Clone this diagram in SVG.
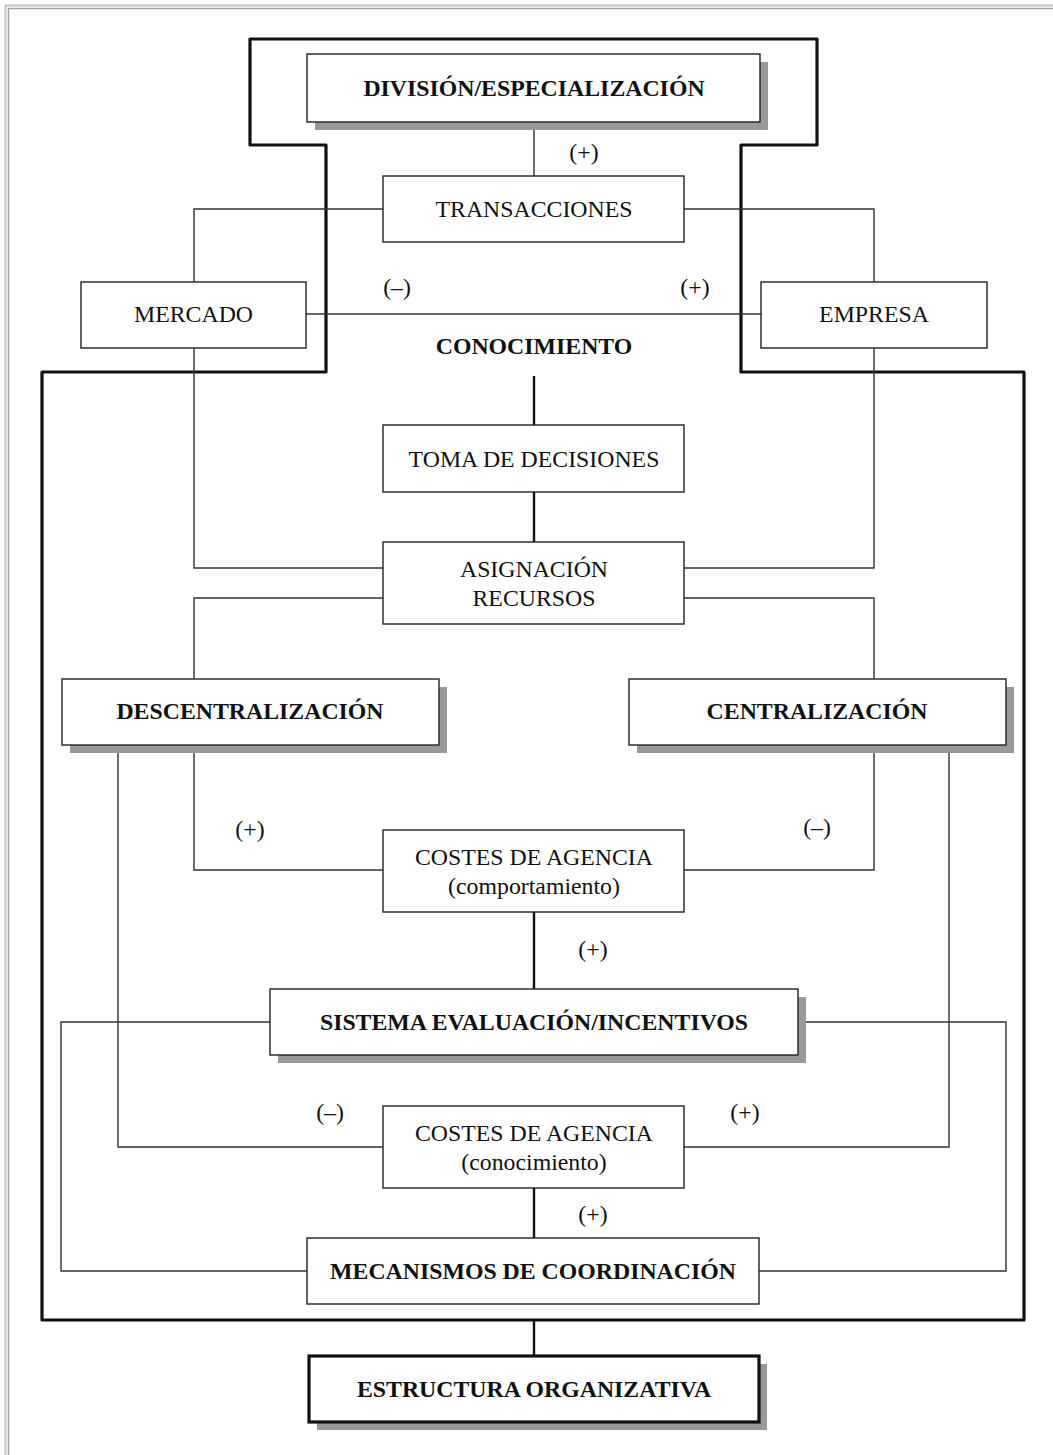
<svg xmlns="http://www.w3.org/2000/svg" width="1053" height="1455" viewBox="0 0 1053 1455">
  <style>
    .box { fill: #ffffff; stroke: #222222; stroke-width: 1.4; }
    .box-thick { fill: #ffffff; stroke: #111111; stroke-width: 3.2; }
    .shadow { fill: #999999; stroke: none; }
    .wire { fill: none; stroke: #333333; stroke-width: 1.4; }
    .wire-bold { fill: none; stroke: #111111; stroke-width: 2.4; }
    .frame { fill: none; stroke: #111111; stroke-width: 3.2; stroke-linejoin: round; }
    text { font-family: "Liberation Serif", "Times New Roman", serif; font-size: 23.8px; fill: #111111; text-anchor: middle; }
    .b { font-weight: bold; }
  </style>

  <!-- page edge -->
  <g id="page-edge" fill="none">
    <polyline points="5.5,1455 5.5,5.5 1053,5.5" stroke="#c4c4c4" stroke-width="2"/>
    <polyline points="8.5,1455 8.5,8.5 1053,8.5" stroke="#a2a2a2" stroke-width="1.5"/>
  </g>

  <!-- outer outline grouping the inner blocks -->
  <g id="outline">
    <path class="frame" d="M250 39 H817 V145 H741 V372 H1024 V1320 H42 V372 H326 V145 H250 Z"/>
  </g>

  <g id="connectors">
    <path class="wire" d="M534 122 V176"/>
    <path class="wire" d="M383 209 H194 V282"/>
    <path class="wire" d="M684 209 H874 V282"/>
    <path class="wire" d="M306 314 H761"/>
    <path class="wire" d="M194 348 V568 H383"/>
    <path class="wire" d="M874 348 V568 H684"/>
    <path class="wire" d="M383 598 H194 V679"/>
    <path class="wire" d="M684 598 H874 V679"/>
    <path class="wire" d="M194 745 V870 H383"/>
    <path class="wire" d="M874 745 V870 H684"/>
    <path class="wire" d="M118 745 V1147 H383"/>
    <path class="wire" d="M949 745 V1147 H684"/>
    <path class="wire" d="M270 1022 H61 V1271 H307"/>
    <path class="wire" d="M798 1022 H1006 V1271 H759"/>
    <path class="wire-bold" d="M534 376 V425"/>
    <path class="wire-bold" d="M534 492 V542"/>
    <path class="wire-bold" d="M534 912 V989"/>
    <path class="wire-bold" d="M534 1188 V1238"/>
    <path class="wire-bold" d="M534 1320 V1356"/>
  </g>

  <g id="division">
    <rect class="shadow" x="315" y="62" width="453" height="68"/>
    <rect class="box" x="307" y="54" width="453" height="68"/>
    <text class="b" x="534" y="96">DIVISIÓN/ESPECIALIZACIÓN</text>
  </g>

  <g id="transacciones">
    <rect class="box" x="383" y="176" width="301" height="66"/>
    <text x="534" y="217">TRANSACCIONES</text>
  </g>

  <g id="mercado">
    <rect class="box" x="81" y="282" width="225" height="66"/>
    <text x="193.5" y="322">MERCADO</text>
  </g>

  <g id="empresa">
    <rect class="box" x="761" y="282" width="226" height="66"/>
    <text x="874" y="322">EMPRESA</text>
  </g>

  <g id="conocimiento">
    <text class="b" x="534" y="354">CONOCIMIENTO</text>
  </g>

  <g id="toma-decisiones">
    <rect class="box" x="383" y="425" width="301" height="67"/>
    <text x="534" y="467">TOMA DE DECISIONES</text>
  </g>

  <g id="asignacion">
    <rect class="box" x="383" y="542" width="301" height="82"/>
    <text x="534" y="577">ASIGNACIÓN</text>
    <text x="534" y="606">RECURSOS</text>
  </g>

  <g id="descentralizacion">
    <rect class="shadow" x="70" y="687" width="377" height="66"/>
    <rect class="box" x="62" y="679" width="377" height="66"/>
    <text class="b" x="250" y="719">DESCENTRALIZACIÓN</text>
  </g>

  <g id="centralizacion">
    <rect class="shadow" x="637" y="687" width="377" height="66"/>
    <rect class="box" x="629" y="679" width="377" height="66"/>
    <text class="b" x="817" y="719">CENTRALIZACIÓN</text>
  </g>

  <g id="costes-comportamiento">
    <rect class="box" x="383" y="830" width="301" height="82"/>
    <text x="534" y="865">COSTES DE AGENCIA</text>
    <text x="534" y="894">(comportamiento)</text>
  </g>

  <g id="sistema-evaluacion">
    <rect class="shadow" x="278" y="997" width="528" height="66"/>
    <rect class="box" x="270" y="989" width="528" height="66"/>
    <text class="b" x="534" y="1030">SISTEMA EVALUACIÓN/INCENTIVOS</text>
  </g>

  <g id="costes-conocimiento">
    <rect class="box" x="383" y="1106" width="301" height="82"/>
    <text x="534" y="1141">COSTES DE AGENCIA</text>
    <text x="534" y="1170">(conocimiento)</text>
  </g>

  <g id="mecanismos">
    <rect class="box" x="307" y="1238" width="452" height="66"/>
    <text class="b" x="533" y="1279">MECANISMOS DE COORDINACIÓN</text>
  </g>

  <g id="estructura">
    <rect class="shadow" x="317" y="1364" width="450" height="66"/>
    <rect class="box-thick" x="309" y="1356" width="450" height="66"/>
    <text class="b" x="534" y="1397">ESTRUCTURA ORGANIZATIVA</text>
  </g>

  <!-- sign labels on the links -->
  <g id="signs">
    <text x="584" y="160">(+)</text>
    <text x="397" y="295">(–)</text>
    <text x="695" y="295">(+)</text>
    <text x="250" y="837">(+)</text>
    <text x="817" y="835">(–)</text>
    <text x="593" y="957">(+)</text>
    <text x="330" y="1120">(–)</text>
    <text x="745" y="1120">(+)</text>
    <text x="593" y="1222">(+)</text>
  </g>
</svg>
